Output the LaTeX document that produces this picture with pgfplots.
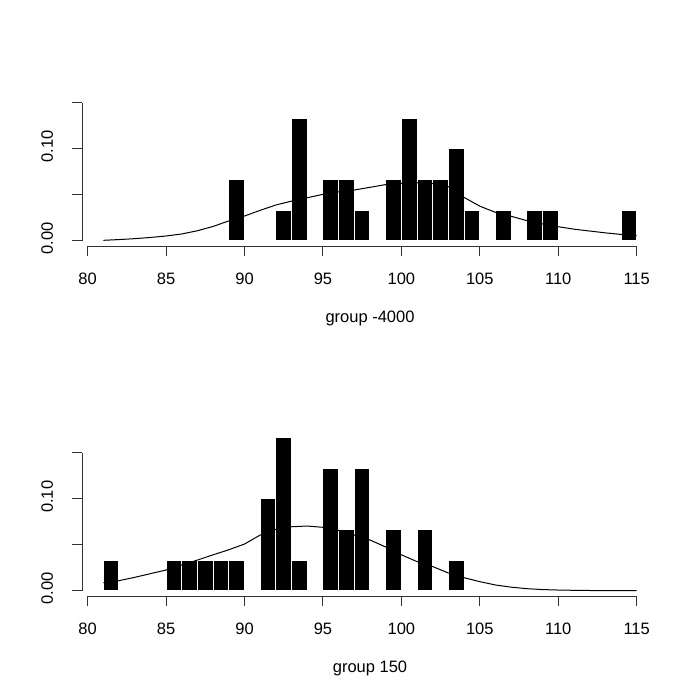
\documentclass[border=0pt]{standalone}
\usepackage{pgfplots}
\pgfplotsset{compat=1.18}
\usepackage{fontspec}
\setmainfont{Liberation Sans}
\newcommand{\rfont}{\fontsize{16.5pt}{19pt}\selectfont}
\pgfplotsset{
  rhist/.style={
    scale only axis,
    width=576pt, height=149pt,
    xmin=79.64, xmax=116.36,
    ymin=-0.006, ymax=0.156,
    clip=false,
    axis x line*=bottom, axis y line*=left,
    axis line style={draw=none},
    xtick={80,85,90,95,100,105,110,115},
    xticklabels={80,85,90,95,100,105,110,115},
    ytick={0,0.05,0.10,0.15},
    yticklabels={0.00,,0.10,},
    tick align=outside,
    major tick length=10pt,
    tick style={black!80, line width=1pt},
    tick label style={font=\rfont},
    xticklabel style={anchor=north, inner sep=0pt, yshift=-16.5pt},
    yticklabel style={rotate=90, anchor=south, inner sep=0pt, yshift=18.7pt, xshift=2pt},
    xlabel style={font=\rfont, at={(axis description cs:0.5,0)}, anchor=base, yshift=-76.5pt, inner sep=0pt},
  },
  rbars/.style={ybar, bar width=1, bar shift=0pt, fill=black, draw=white, line width=1.1pt},
  rcurve/.style={black, line width=1pt, mark=none},
}
\begin{document}
\begin{tikzpicture}[x=1pt,y=1pt]
\useasboundingbox (0,0) rectangle (699,699);
% ---------------- top panel ----------------
\begin{axis}[rhist, at={(82pt,452.8pt)}, anchor=south west, xlabel={group -4000}]
\addplot[rbars] coordinates {
(89.5,0.06667) (92.5,0.03333) (93.5,0.13333) (95.5,0.06667) (96.5,0.06667)
(97.5,0.03333) (99.5,0.06667) (100.5,0.13333) (101.5,0.06667) (102.5,0.06667)
(103.5,0.1) (104.5,0.03333) (106.5,0.03333) (108.5,0.03333) (109.5,0.03333)
(114.5,0.03333)};
\addplot[rcurve] coordinates {
(81,0.0004) (82,0.0012) (83,0.0022) (84,0.0035) (85,0.0051) (86,0.0073)
(87,0.0108) (88,0.0155) (89,0.0215) (90,0.0268) (91,0.0330) (92,0.0388)
(93,0.0430) (94,0.0467) (95,0.0504) (96,0.0530) (97,0.0551) (98,0.0580)
(99,0.0610) (100,0.0623) (101,0.0630) (102,0.0620) (103,0.0587) (103.5,0.0535)
(104,0.0470) (105,0.0375) (106,0.0308) (107,0.0265) (108,0.0218) (109,0.0182)
(110,0.0152) (111,0.0125) (112,0.0105) (113,0.0085) (114,0.0068) (115,0.0054)};
\draw[black!80, line width=1pt] (axis cs:80,-0.006) -- (axis cs:115,-0.006);
\draw[black!80, line width=1pt] (axis cs:79.64,0) -- (axis cs:79.64,0.15);
\end{axis}
% ---------------- bottom panel ----------------
\begin{axis}[rhist, at={(82pt,102.8pt)}, anchor=south west, xlabel={group 150}]
\addplot[rbars] coordinates {
(81.5,0.03333) (85.5,0.03333) (86.5,0.03333) (87.5,0.03333) (88.5,0.03333)
(89.5,0.03333) (91.5,0.1) (92.5,0.16667) (93.5,0.03333) (95.5,0.13333)
(96.5,0.06667) (97.5,0.13333) (99.5,0.06667) (101.5,0.06667) (103.5,0.03333)};
\addplot[rcurve] coordinates {
(81,0.0087) (82,0.0109) (83,0.0145) (84,0.0185) (85,0.0225) (86,0.0280)
(87,0.0333) (88,0.0390) (89,0.0445) (90,0.0507) (91,0.0605) (92,0.0667)
(93,0.0695) (94,0.0703) (95,0.0689) (96,0.0655) (97,0.0605) (98,0.0551)
(99,0.0475) (100,0.0390) (101,0.0316) (102,0.0262) (103,0.0192) (104,0.0141)
(105,0.0098) (106,0.0062) (107,0.0038) (108,0.0022) (109,0.0012) (110,0.0007)
(111,0.0004) (112,0.0002) (113,0.0001) (114,0.0) (115,0.0)};
\draw[black!80, line width=1pt] (axis cs:80,-0.006) -- (axis cs:115,-0.006);
\draw[black!80, line width=1pt] (axis cs:79.64,0) -- (axis cs:79.64,0.15);
\end{axis}
\end{tikzpicture}
\end{document}
